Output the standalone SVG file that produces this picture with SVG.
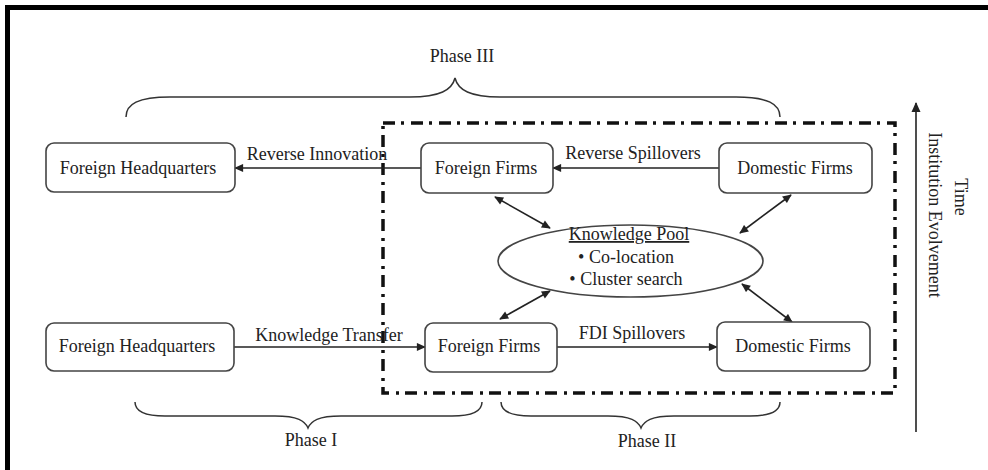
<svg xmlns="http://www.w3.org/2000/svg" width="988" height="470" viewBox="0 0 988 470">
  <style>
    .box { fill: #ffffff; stroke: #444; stroke-width: 1.6; }
    .lbl { font-family: "Liberation Serif", "Times New Roman", serif; font-size: 18px; fill: #222; text-anchor: middle; }
    .edge { stroke: #222; stroke-width: 1.6; fill: none; }
    .brace { stroke: #333; stroke-width: 1.5; fill: none; }
    .zone { stroke: #111; stroke-width: 3.5; fill: none; stroke-dasharray: 12 6 3 7; }
  </style>
  <defs>
    <marker id="arr" viewBox="0 0 10 10" refX="9" refY="5" markerWidth="10" markerHeight="9" markerUnits="userSpaceOnUse" orient="auto-start-reverse">
      <path d="M0,0.5 L10,5 L0,9.5 Z" fill="#222"/>
    </marker>
    <marker id="arrBig" viewBox="0 0 10 10" refX="9" refY="5" markerWidth="11" markerHeight="10" markerUnits="userSpaceOnUse" orient="auto-start-reverse">
      <path d="M0,0.5 L10,5 L0,9.5 Z" fill="#222"/>
    </marker>
  </defs>

  <rect width="988" height="470" fill="#ffffff"/>

  <!-- page frame (top and left rules) -->
  <path d="M7.5,470 L7.5,7.5 L988,7.5" stroke="#000" stroke-width="5" fill="none"/>

  <!-- dash-dot cluster boundary -->
  <rect class="zone" x="383" y="123" width="512" height="270"/>

  <!-- phase braces -->
  <g id="phase3">
    <path class="brace" d="M126,117 C126,104 138,97 170,97 L410,97 C440,97 452,90 455,78 C458,90 470,97 500,97 L736,97 C768,97 780,104 780,117"/>
    <text class="lbl" x="462" y="62">Phase III</text>
  </g>
  <g id="phase1">
    <path class="brace" d="M135,402 C135,412 145,416 165,416 L275,416 C298,416 305,421 308,428 C311,421 318,416 341,416 L452,416 C472,416 482,412 482,402"/>
    <text class="lbl" x="311" y="446">Phase I</text>
  </g>
  <g id="phase2">
    <path class="brace" d="M501,402 C501,412 511,416 531,416 L608,416 C631,416 638,421 641,428 C644,421 651,416 674,416 L750,416 C770,416 780,412 780,402"/>
    <text class="lbl" x="647" y="447">Phase II</text>
  </g>

  <!-- connectors -->
  <g id="connectors">
    <line class="edge" x1="421" y1="168" x2="235" y2="168" marker-end="url(#arr)"/>
    <text class="lbl" x="317" y="160">Reverse Innovation</text>
    <line class="edge" x1="719" y1="168" x2="553" y2="168" marker-end="url(#arr)"/>
    <text class="lbl" x="633" y="159">Reverse Spillovers</text>
    <line class="edge" x1="234" y1="347" x2="425" y2="347" marker-end="url(#arr)"/>
    <text class="lbl" x="329" y="341">Knowledge Transfer</text>
    <line class="edge" x1="557" y1="347" x2="717" y2="347" marker-end="url(#arr)"/>
    <text class="lbl" x="632" y="339">FDI Spillovers</text>

    <line class="edge" x1="495" y1="197" x2="550" y2="228" marker-start="url(#arr)" marker-end="url(#arr)"/>
    <line class="edge" x1="791" y1="195" x2="740" y2="233" marker-start="url(#arr)" marker-end="url(#arr)"/>
    <line class="edge" x1="550" y1="291" x2="500" y2="319" marker-start="url(#arr)" marker-end="url(#arr)"/>
    <line class="edge" x1="742" y1="284" x2="792" y2="322" marker-start="url(#arr)" marker-end="url(#arr)"/>

    <!-- time axis -->
    <line class="edge" x1="916" y1="432" x2="916" y2="103" marker-end="url(#arrBig)"/>
  </g>

  <!-- nodes -->
  <g id="hq-top">
    <rect class="box" x="46" y="143" width="189" height="49" rx="8"/>
    <text class="lbl" x="138" y="174">Foreign Headquarters</text>
  </g>
  <g id="foreign-top">
    <rect class="box" x="421" y="143" width="132" height="50" rx="8"/>
    <text class="lbl" x="486" y="174">Foreign Firms</text>
  </g>
  <g id="domestic-top">
    <rect class="box" x="719" y="143" width="153" height="50" rx="8"/>
    <text class="lbl" x="795" y="174">Domestic Firms</text>
  </g>
  <g id="hq-bottom">
    <rect class="box" x="46" y="323" width="188" height="48" rx="8"/>
    <text class="lbl" x="137" y="352">Foreign Headquarters</text>
  </g>
  <g id="foreign-bottom">
    <rect class="box" x="425" y="323" width="132" height="49" rx="8"/>
    <text class="lbl" x="489" y="352">Foreign Firms</text>
  </g>
  <g id="domestic-bottom">
    <rect class="box" x="717" y="322" width="153" height="49" rx="8"/>
    <text class="lbl" x="793" y="352">Domestic Firms</text>
  </g>
  <g id="knowledge-pool">
    <ellipse cx="630.5" cy="261" rx="132.5" ry="36" fill="#fff" stroke="#444" stroke-width="1.6"/>
    <text class="lbl" x="629" y="240" text-decoration="underline">Knowledge Pool</text>
    <text class="lbl" x="626" y="263">• Co-location</text>
    <text class="lbl" x="626" y="285">• Cluster search</text>
  </g>

  <!-- axis captions -->
  <text class="lbl" x="197" y="-955" transform="rotate(90)">Time</text>
  <text class="lbl" x="215" y="-929" transform="rotate(90)">Institution Evolvement</text>
</svg>
